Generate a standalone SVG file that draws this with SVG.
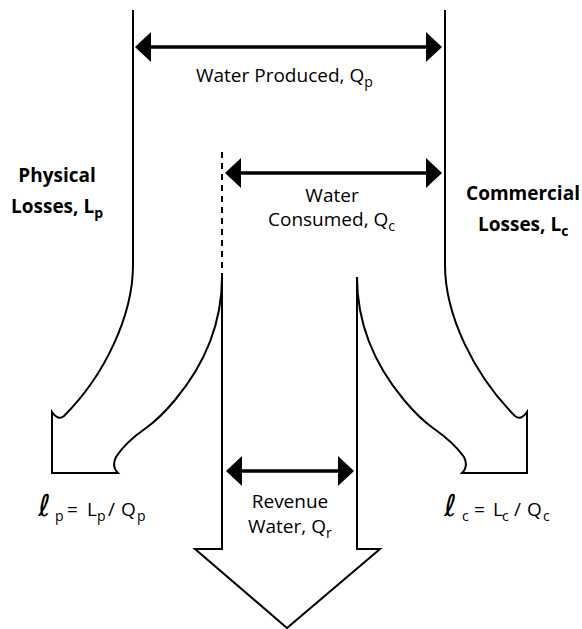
<svg xmlns="http://www.w3.org/2000/svg" width="582" height="629" viewBox="0 0 582 629">
<style>
.outline{fill:none;stroke:#000;stroke-width:2;stroke-linejoin:miter}
.dash{fill:none;stroke:#000;stroke-width:2;stroke-dasharray:6,5}
.dim{stroke:#000;stroke-width:3.5;fill:none}
.lbl{font-family:"Open Sans","Liberation Sans",sans-serif;font-size:19px;fill:#000}
.bold{font-weight:bold}
.sub{font-size:14px}
.ell{font-family:"DejaVu Sans ExtraLight","DejaVu Sans",sans-serif;font-style:italic;font-weight:200;font-size:30px}
</style>
<defs>
<marker id="ah" viewBox="0 0 16 30" refX="6" refY="15" markerWidth="16" markerHeight="30" markerUnits="userSpaceOnUse" orient="auto-start-reverse">
<path d="M0,0 L16,15 L0,30 Z" fill="#000"/>
</marker>
</defs>
<rect width="582" height="629" fill="#fff"/>
<g id="left-branch">
<path class="outline" d="M133,10 L133,265 C133,315 105,375 64,416 Q58,421 52,412 L52,473 L118,473 C114,469 113,463 116,457 C124,444 136,435 146,428 C160,418 170,406 175,400 C200,370 222,330 222,277"/>
<path class="dash" d="M222,152 L222,277"/>
</g>
<g id="center-arrow">
<path class="outline" d="M222,277 L222,549 L195,549 L287,628 L380,549 L357,549 L357,277"/>
</g>
<g id="right-branch">
<path class="outline" d="M445,10 L445,265 C445,315 474,375 515,416 Q521,421 527,412 L527,473 L462,473 C466,469 467,463 464,457 C455,444 443,435 433,428 C419,418 409,406 404,400 C379,370 357,330 357,277"/>
</g>
<g id="connectors">
<line class="dim" x1="145" y1="47" x2="432" y2="47" marker-start="url(#ah)" marker-end="url(#ah)"/>
<line class="dim" x1="235" y1="173" x2="432" y2="173" marker-start="url(#ah)" marker-end="url(#ah)"/>
<line class="dim" x1="236" y1="471" x2="344" y2="471" marker-start="url(#ah)" marker-end="url(#ah)"/>
</g>
<g id="label-produced">
<text class="lbl" x="196" y="82">Water Produced, Q<tspan class="sub" dy="5">p</tspan></text>
</g>
<g id="label-consumed">
<text class="lbl" x="332" y="202" text-anchor="middle">Water</text>
<text class="lbl" x="268" y="226">Consumed, Q<tspan class="sub" dy="5">c</tspan></text>
</g>
<g id="label-revenue">
<text class="lbl" x="290" y="508" text-anchor="middle">Revenue</text>
<text class="lbl" x="248" y="533">Water, Q<tspan class="sub" dy="5">r</tspan></text>
</g>
<g id="label-physical">
<text class="lbl bold" x="57" y="182" text-anchor="middle">Physical</text>
<text class="lbl bold" x="11" y="213">Losses, L<tspan class="sub" dy="5">p</tspan></text>
</g>
<g id="label-commercial">
<text class="lbl bold" x="523" y="200" text-anchor="middle">Commercial</text>
<text class="lbl bold" x="478" y="231">Losses, L<tspan class="sub" dy="5">c</tspan></text>
</g>
<g id="formula-physical">
<text class="lbl"><tspan class="ell" x="38" y="516">ℓ</tspan><tspan class="sub" x="55" y="521">p</tspan><tspan x="67" y="516">=</tspan><tspan x="87" y="516">L</tspan><tspan class="sub" x="97" y="521">p</tspan><tspan x="108" y="516">/</tspan><tspan x="121" y="516">Q</tspan><tspan class="sub" x="137" y="521">p</tspan></text>
</g>
<g id="formula-commercial">
<text class="lbl"><tspan class="ell" x="444" y="516">ℓ</tspan><tspan class="sub" x="462" y="521">c</tspan><tspan x="474" y="516">=</tspan><tspan x="493" y="516">L</tspan><tspan class="sub" x="502" y="521">c</tspan><tspan x="514" y="516">/</tspan><tspan x="527" y="516">Q</tspan><tspan class="sub" x="543" y="521">c</tspan></text>
</g>
</svg>
